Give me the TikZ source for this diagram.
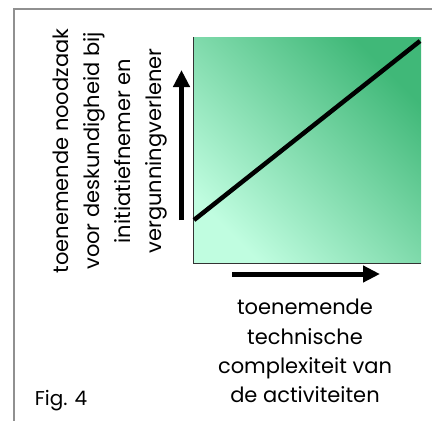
\documentclass[tikz,border=0pt]{standalone}
\usepackage{fontspec}
\setmainfont{Poppins}
\usetikzlibrary{arrows.meta}
\definecolor{gdark}{HTML}{40B878}
\definecolor{glight}{HTML}{C0FDE0}
\definecolor{framegray}{HTML}{909090}
\definecolor{axisgray}{HTML}{333333}
\begin{document}
\begin{tikzpicture}[x=1pt,y=-1pt,
  bigarrow/.style={line width=5pt,-{Triangle[length=17pt,width=16pt]}},
  lbl/.style={font=\fontsize{21}{31}\selectfont, align=center, inner sep=0pt},
  blbl/.style={font=\fontsize{21}{29.3}\selectfont, align=center, inner sep=0pt}]
\useasboundingbox (0,0) rectangle (432,421);
% frame
\coordinate (fb) at (14,421);
\coordinate (ftl) at (14,9);
\coordinate (fr) at (432,9);
\draw[framegray, line width=1.5pt] (fb) -- (ftl) -- (fr);
% plot area
\coordinate (pbl) at (193,263);
\coordinate (ptr) at (421,37);
\coordinate (ptl) at (193,37);
\coordinate (pbr) at (421,263);
\shade[top color=gdark, bottom color=glight, shading angle=-45] (ptl) rectangle (pbr);
\draw[axisgray, line width=1pt] (ptl) -- (pbl) -- (pbr);
% diagonal line
\coordinate (ls) at (194,220);
\coordinate (le) at (420,41);
\draw[line width=4.5pt] (ls) -- (le);
% arrows
\coordinate (va0) at (181.5,220);
\coordinate (va1) at (181.5,70);
\draw[bigarrow] (va0) -- (va1);
\coordinate (ha0) at (232,274);
\coordinate (ha1) at (380,274);
\draw[bigarrow] (ha0) -- (ha1);
% labels
\node[lbl, rotate=90] (ylab) at (110,151) {toenemende noodzaak\\voor deskundigheid bij\\initiatiefnemer en\\vergunningverlener};
\node[blbl] (xlab) at (305,351) {toenemende\\technische\\complexiteit van\\de activiteiten};
\node[font=\fontsize{20}{24}\selectfont, inner sep=0pt] (fig) at (61,401) {Fig. 4};
\end{tikzpicture}
\end{document}
